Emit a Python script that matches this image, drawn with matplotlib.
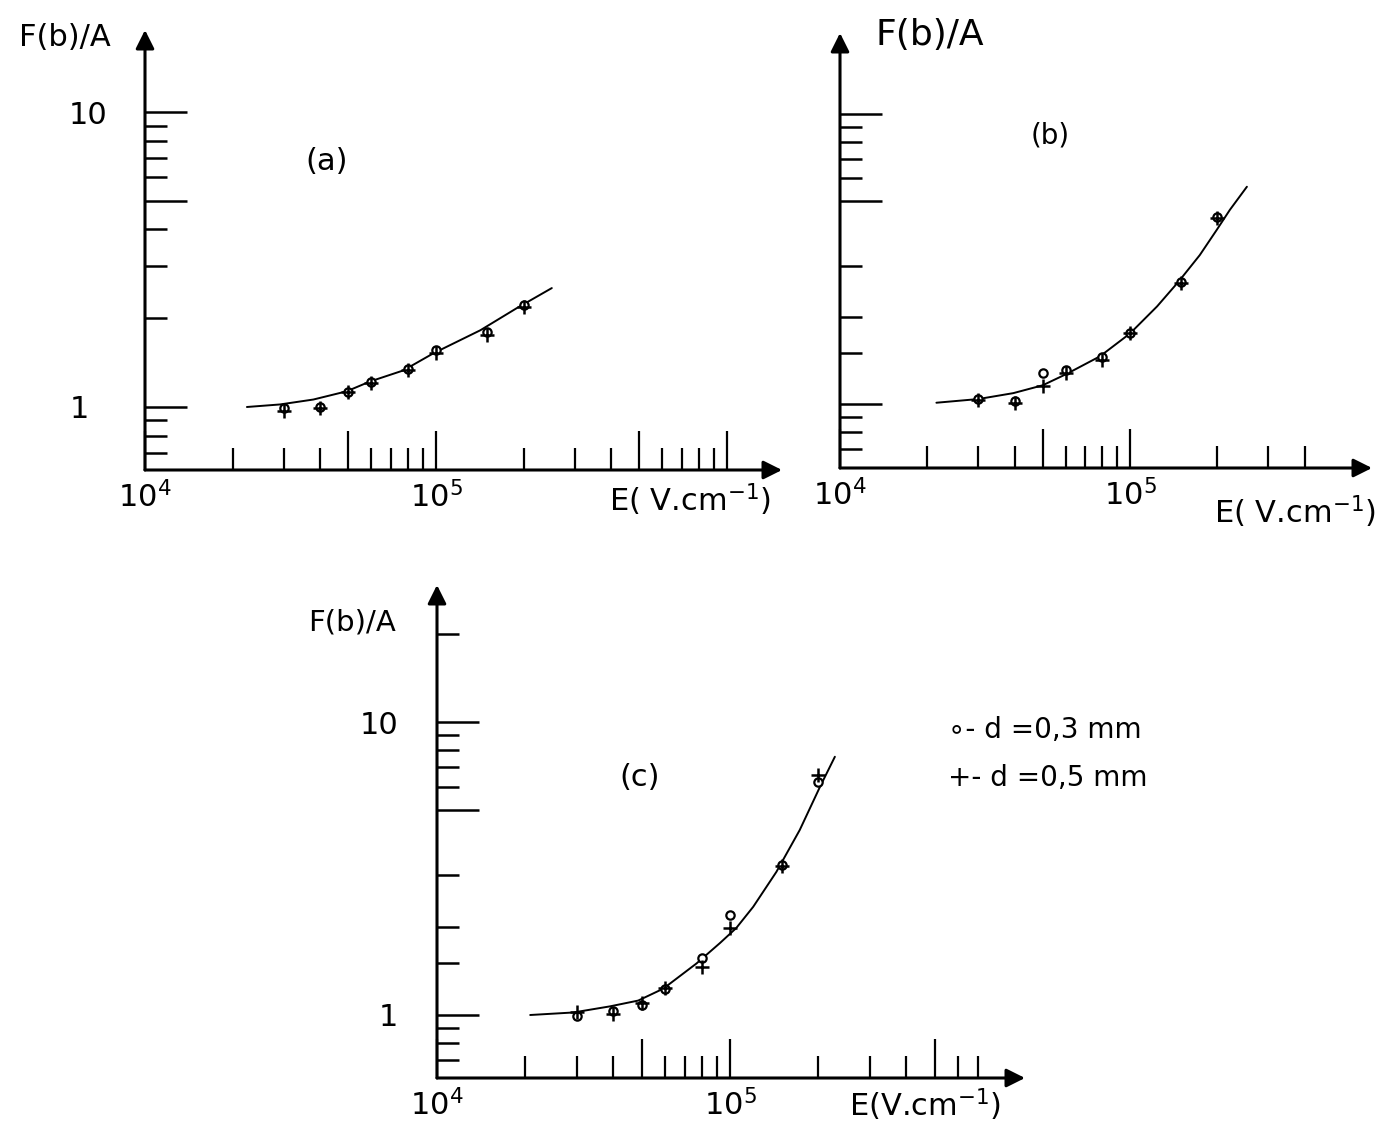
import matplotlib
matplotlib.use('Agg')
import matplotlib.pyplot as plt

plt.rcParams['font.family'] = 'DejaVu Sans'
plt.rcParams['mathtext.fontset'] = 'dejavusans'

# --- data (E in V/cm, F(b)/A) ---
# panel (a)
a_x = [3e4, 4e4, 5e4, 6e4, 8e4, 1e5, 1.5e5, 2e5]
a_o = [0.99, 1.00, 1.12, 1.22, 1.34, 1.56, 1.80, 2.22]
a_p = [0.97, 0.99, 1.12, 1.21, 1.33, 1.53, 1.76, 2.18]
a_fit_x = [2.24e4, 2.91e4, 3.79e4, 4.93e4, 5.93e4, 7.72e4, 9.79e4, 1.42e5, 1.89e5, 2.5e5]
a_fit_y = [1.00, 1.02, 1.06, 1.13, 1.22, 1.33, 1.52, 1.82, 2.16, 2.53]

# panel (b)
b_x = [3e4, 4e4, 5e4, 6e4, 8e4, 1e5, 1.5e5, 2e5]
b_o = [1.04, 1.02, 1.28, 1.31, 1.45, 1.75, 2.64, 4.42]
b_p = [1.03, 1.01, 1.15, 1.28, 1.42, 1.76, 2.62, 4.38]
b_fit_x = [2.15e4, 3.0e4, 3.96e4, 5.0e4, 6.05e4, 7.88e4, 1e5, 1.24e5, 1.47e5,
           1.74e5, 1.99e5, 2.21e5, 2.53e5]
b_fit_y = [1.01, 1.04, 1.09, 1.16, 1.27, 1.46, 1.75, 2.17, 2.64, 3.26, 3.98, 4.67, 5.61]

# panel (c)
c_x = [3e4, 4e4, 5e4, 6e4, 8e4, 1e5, 1.5e5, 2e5]
c_o = [0.99, 1.03, 1.08, 1.23, 1.56, 2.19, 3.25, 6.25]
c_p = [1.02, 1.01, 1.10, 1.24, 1.46, 1.98, 3.22, 6.60]
c_fit_x = [2.08e4, 2.92e4, 3.89e4, 4.86e4, 5.92e4, 7.69e4, 9.24e4, 1.05e5, 1.2e5,
           1.44e5, 1.73e5, 2.03e5, 2.28e5]
c_fit_y = [1.00, 1.02, 1.07, 1.12, 1.23, 1.50, 1.76, 1.98, 2.34, 3.08, 4.28, 6.02, 7.61]

x_major = [1e4, 5e4, 1e5, 5e5, 1e6]
x_minor = [2e4, 3e4, 4e4, 6e4, 7e4, 8e4, 9e4, 2e5, 3e5, 4e5, 6e5, 7e5, 8e5, 9e5]
y_major = [1, 5, 10]
y_minor_a = [0.7, 0.8, 0.9, 2, 3, 4, 6, 7, 8, 9]
y_minor_bc = [0.7, 0.8, 0.9, 1.5, 2, 3, 6, 7, 8, 9, 20]

W, H = 1399, 1138
fig = plt.figure(figsize=(W / 100, H / 100), dpi=100)


def px_axes(left, bottom, right, top):
    return fig.add_axes([left / W, 1 - bottom / H, (right - left) / W, (bottom - top) / H])


def setup(ax, xlim, ylim, xtick_max):
    ax.set_xscale('log')
    ax.set_yscale('log')
    ax.set_xlim(*xlim)
    ax.set_ylim(*ylim)
    for s in ax.spines.values():
        s.set_visible(False)
    xmaj = [v for v in x_major if v <= xtick_max]
    xmin = [v for v in x_minor if v <= xtick_max]
    xlabels = {1e4: r'$10^4$', 1e5: r'$10^5$'}
    ax.set_xticks(xmaj, labels=[xlabels.get(v, '') for v in xmaj])
    ax.set_xticks(xmin, minor=True)
    ax.set_xticklabels([], minor=True)
    ax.tick_params(axis='x', which='major', direction='in', length=28, width=1.6,
                   labelsize=22, pad=8)
    ax.tick_params(axis='x', which='minor', direction='in', length=16, width=1.6)
    ax.annotate('', xy=(1, 0), xytext=(0, 0), xycoords='axes fraction',
                arrowprops=dict(arrowstyle='-|>', lw=2.2, color='black',
                                mutation_scale=28, shrinkA=0, shrinkB=0))
    ax.annotate('', xy=(0, 1), xytext=(0, 0), xycoords='axes fraction',
                arrowprops=dict(arrowstyle='-|>', lw=2.2, color='black',
                                mutation_scale=28, shrinkA=0, shrinkB=0))


def yticks(ax, minors, labels, pads):
    ax.set_yticks(y_major, labels=[labels.get(v, '') for v in y_major])
    ax.set_yticks(minors, minor=True)
    ax.set_yticklabels([], minor=True)
    ax.tick_params(axis='y', which='major', direction='in', length=30, width=1.8,
                   labelsize=22)
    ax.tick_params(axis='y', which='minor', direction='in', length=16, width=1.8)
    for t, p in zip(ax.yaxis.get_major_ticks(), pads):
        t.set_pad(p)


def draw(ax, x, yo, yp, fx, fy):
    ax.plot(fx, fy, color='black', lw=1.4, solid_capstyle='round')
    ax.plot(x, yo, 'o', ms=6, mfc='white', mec='black', mew=1.6, clip_on=False)
    ax.plot(x, yp, '+', ms=10, color='black', mew=1.8, clip_on=False)


# panel (a)
ax_a = px_axes(145, 470, 782, 30)
setup(ax_a, (1e4, 1e4 * 10 ** (637 / 291)), (10 ** -0.2136, 10 ** 1.278), 1e6)
yticks(ax_a, y_minor_a, {1: '1', 10: '10'}, [40, 26, 27])
draw(ax_a, a_x, a_o, a_p, a_fit_x, a_fit_y)
ax_a.text(0.285, 0.7, '(a)', transform=ax_a.transAxes, fontsize=22, ha='center', va='center')

# panel (b)
ax_b = px_axes(840, 468, 1372, 33)
setup(ax_b, (1e4, 1e4 * 10 ** (532 / 290)), (10 ** -0.2207, 10 ** 1.279), 4e5)
yticks(ax_b, y_minor_bc[:-1], {}, [10, 10, 10])
draw(ax_b, b_x, b_o, b_p, b_fit_x, b_fit_y)
ax_b.text(0.395, 0.765, '(b)', transform=ax_b.transAxes, fontsize=20, ha='center', va='center')

# panel (c)
ax_c = px_axes(437, 1078, 1025, 585)
setup(ax_c, (1e4, 1e4 * 10 ** (588 / 293)), (10 ** (-63 / 293), 10 ** (430 / 293)), 7e5)
yticks(ax_c, y_minor_bc, {1: '1', 10: '10'}, [28, 28, 28])
draw(ax_c, c_x, c_o, c_p, c_fit_x, c_fit_y)
ax_c.text(0.345, 0.61, '(c)', transform=ax_c.transAxes, fontsize=22, ha='center', va='center')

# axis names
fig.text(65 / W, 1 - 37 / H, 'F(b)/A', fontsize=22, ha='center', va='center')
fig.text(930 / W, 1 - 35 / H, 'F(b)/A', fontsize=26, ha='center', va='center')
fig.text(352 / W, 1 - 622 / H, 'F(b)/A', fontsize=21, ha='center', va='center')
fig.text(690 / W, 1 - 500 / H, r'E( V.cm$^{-1}$)', fontsize=22, ha='center', va='center')
fig.text(1295 / W, 1 - 512 / H, r'E( V.cm$^{-1}$)', fontsize=22, ha='center', va='center')
fig.text(925 / W, 1 - 1105 / H, r'E(V.cm$^{-1}$)', fontsize=22, ha='center', va='center')

# legend
fig.text(948 / W, 1 - 730 / H, '∘- d =0,3 mm', fontsize=20, ha='left', va='center')
fig.text(948 / W, 1 - 778 / H, '+- d =0,5 mm', fontsize=20, ha='left', va='center')

fig.savefig('out.png', dpi=100, facecolor='white')
